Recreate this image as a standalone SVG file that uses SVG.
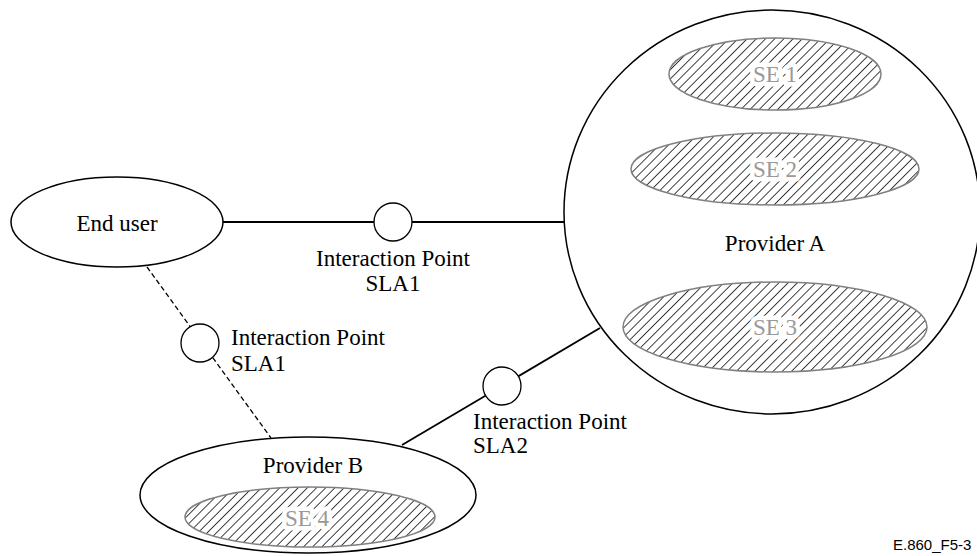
<svg xmlns="http://www.w3.org/2000/svg" width="977" height="556" viewBox="0 0 977 556">
  <defs>
    <pattern id="hatch" patternUnits="userSpaceOnUse" width="6.5" height="6.5" patternTransform="rotate(45)">
      <rect width="6.5" height="6.5" fill="#fff"/>
      <line x1="3.25" y1="0" x2="3.25" y2="6.5" stroke="#000" stroke-width="0.75"/>
    </pattern>
  </defs>
  <style>
    .node { fill: #fff; stroke: #000; stroke-width: 1.5; }
    .se { fill: url(#hatch); stroke: #808080; stroke-width: 1.5; }
    .ip { fill: #fff; stroke: #000; stroke-width: 1.3; }
    .t { font-family: "Liberation Serif", "Times New Roman", serif; font-size: 23px; fill: #000; }
    .set { font-family: "Liberation Serif", "Times New Roman", serif; font-size: 23px; fill: #999; stroke: #fff; stroke-width: 9; paint-order: stroke; stroke-linejoin: round; }
    .solid { stroke: #000; stroke-width: 1.8; fill: none; }
    .dash { stroke: #000; stroke-width: 1.3; fill: none; stroke-dasharray: 5 3; }
    .ref { font-family: "Liberation Sans", Arial, sans-serif; font-size: 15px; fill: #000; }
  </style>
  <g id="connectors">
    <line class="solid" x1="223" y1="222" x2="565" y2="222"/>
    <line class="dash" x1="147" y1="267" x2="271" y2="438"/>
    <line class="solid" x1="402" y1="445" x2="600" y2="328"/>
  </g>
  <g id="provider-a">
    <ellipse class="node" cx="772" cy="212" rx="208" ry="202"/>
    <ellipse class="se" cx="775" cy="74" rx="106" ry="36"/>
    <text class="set" x="775" y="82" text-anchor="middle">SE 1</text>
    <ellipse class="se" cx="775" cy="169" rx="144" ry="36"/>
    <text class="set" x="775" y="177" text-anchor="middle">SE 2</text>
    <text class="t" x="775" y="251" text-anchor="middle">Provider A</text>
    <ellipse class="se" cx="775" cy="327" rx="152" ry="45"/>
    <text class="set" x="775" y="335" text-anchor="middle">SE 3</text>
  </g>
  <g id="end-user">
    <ellipse class="node" cx="117" cy="222" rx="106" ry="45"/>
    <text class="t" x="117" y="231" text-anchor="middle">End user</text>
  </g>
  <g id="provider-b">
    <ellipse class="node" cx="308" cy="495" rx="168" ry="58"/>
    <text class="t" x="313" y="473" text-anchor="middle">Provider B</text>
    <ellipse class="se" cx="310" cy="517" rx="125" ry="30"/>
    <text class="set" x="307" y="526" text-anchor="middle">SE 4</text>
  </g>
  <g id="ip1">
    <circle class="ip" cx="393" cy="222" r="19"/>
    <text class="t" x="393" y="266" text-anchor="middle">Interaction Point</text>
    <text class="t" x="393" y="291" text-anchor="middle">SLA1</text>
  </g>
  <g id="ip2">
    <circle class="ip" cx="200" cy="343" r="19"/>
    <text class="t" x="231" y="345">Interaction Point</text>
    <text class="t" x="231" y="371">SLA1</text>
  </g>
  <g id="ip3">
    <circle class="ip" cx="502" cy="386" r="19"/>
    <text class="t" x="473" y="429">Interaction Point</text>
    <text class="t" x="473" y="453">SLA2</text>
  </g>
  <text class="ref" x="893" y="550">E.860_F5-3</text>
</svg>
